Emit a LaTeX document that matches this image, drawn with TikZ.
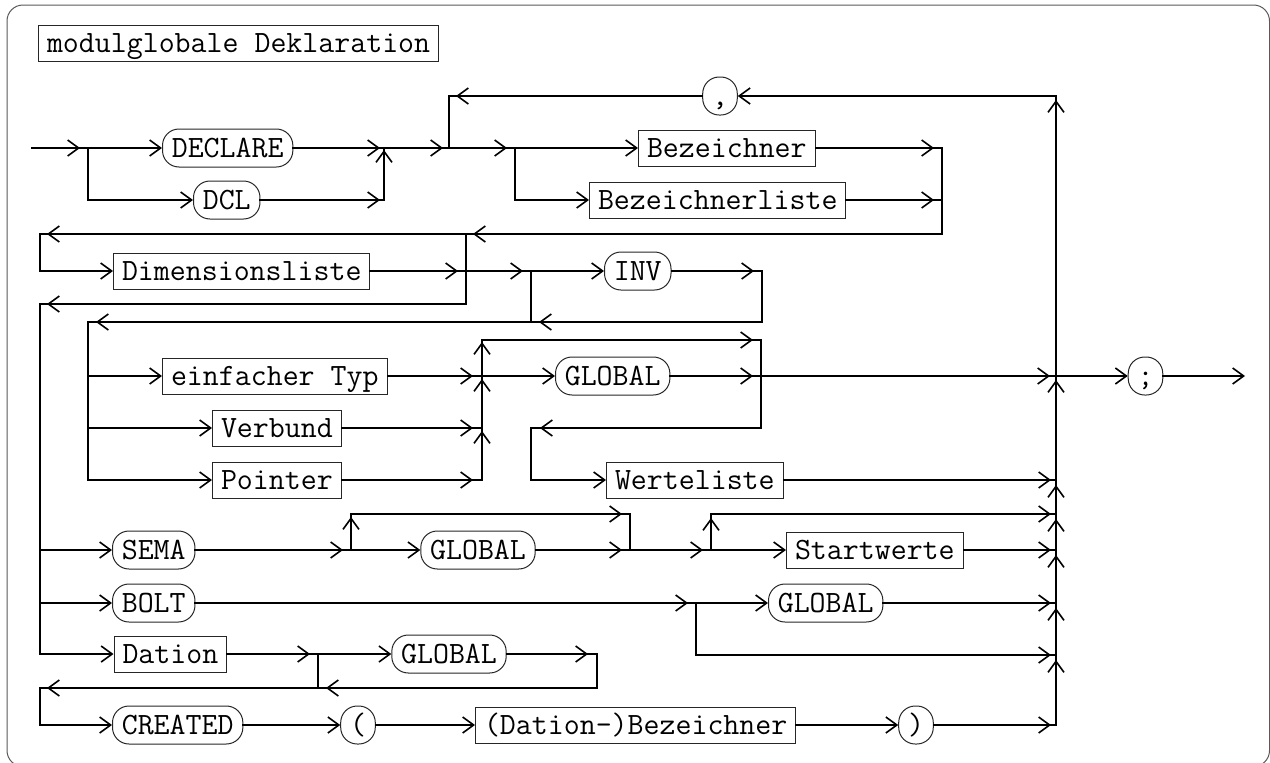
\documentclass[tikz,border=0pt]{standalone}
\usetikzlibrary{arrows.meta,decorations.markings}
\tikzset{
  >={Straight Barb[length=11pt,width=16pt,line width=1.6pt]},
  conn/.style={line width=2pt, line cap=rect, line join=miter},
  ar/.style={postaction={decorate},decoration={markings,mark=at position -#1 with {\arrow{>}}}},
  ar/.default=6pt,
  nt/.style={draw=black!85, line width=1pt, anchor=west, inner xsep=8.5pt, inner ysep=5pt,
    text height=22.5pt, text depth=3.5pt, font=\fontsize{31}{36}\selectfont\ttfamily},
  tm/.style={nt, rounded corners=16.5pt, inner xsep=9.3pt, inner ysep=6pt},
}
\begin{document}
\begin{tikzpicture}[x=1pt,y=-1pt]
\useasboundingbox (0,0) rectangle (1270,763);
\draw[black!65, line width=1pt, rounded corners=16pt] (7,5) rectangle (1269.5,766.5);

% nodes
\node[nt] (title) at (38,43) {modulglobale Deklaration};
\node[tm] (declare) at (162,148) {DECLARE};
\node[tm] (dcl) at (193,200) {DCL};
\node[tm, anchor=center] (comma) at (720,96) {,};
\node[nt] (bez) at (638,148) {Bezeichner};
\node[nt] (bezl) at (589,200) {Bezeichnerliste};
\node[nt] (dim) at (113,271) {Dimensionsliste};
\node[tm] (inv) at (604,271) {INV};
\node[nt] (einf) at (162,376) {einfacher Typ};
\node[nt] (verb) at (212,428) {Verbund};
\node[nt] (ptr) at (212,480) {Pointer};
\node[tm] (glob1) at (555,376) {GLOBAL};
\node[nt] (wert) at (606,480) {Werteliste};
\node[tm] (sema) at (112,550) {SEMA};
\node[tm, anchor=center] (glob2) at (478,550) {GLOBAL};
\node[nt] (start) at (786,550) {Startwerte};
\node[tm] (bolt) at (112,603) {BOLT};
\node[tm] (glob3) at (768,603) {GLOBAL};
\node[nt] (dation) at (113.5,654) {Dation};
\node[tm, anchor=center] (glob4) at (449,654) {GLOBAL};
\node[tm] (created) at (112,725) {CREATED};
\node[tm, anchor=center] (lpar) at (358,725) {(};
\node[nt] (dbez) at (475,725) {(Dation-)Bezeichner};
\node[tm, anchor=center] (rpar) at (916,725) {)};
\node[tm, anchor=center] (semi) at (1145.5,376) {;};

% junction points
\coordinate (s0) at (32,148);
\coordinate (j1) at (88,148); \coordinate (j1b) at (88,200);
\coordinate (j2) at (384,148); \coordinate (j2b) at (384,200);
\coordinate (j3) at (449,148); \coordinate (j3t) at (449,96);
\coordinate (j4) at (515,148); \coordinate (j4b) at (515,200);
\coordinate (j5) at (942,148); \coordinate (j5b) at (942,200); \coordinate (j5c) at (942,234);
\coordinate (d1) at (466,234); \coordinate (d1m) at (466,271); \coordinate (d1e) at (466,304);
\coordinate (cl) at (40,234); \coordinate (cld) at (40,271);
\coordinate (el) at (40,304);
\coordinate (i1) at (531,271); \coordinate (i1f) at (531,322);
\coordinate (i2) at (762,271); \coordinate (i2f) at (762,322);
\coordinate (fl) at (88,322);
\coordinate (t1) at (88,376); \coordinate (t2) at (88,428); \coordinate (t3) at (88,480);
\coordinate (m0) at (482,340); \coordinate (m1) at (482,376); \coordinate (m2) at (482,428); \coordinate (m3) at (482,480);
\coordinate (g0) at (761,340); \coordinate (g1) at (761,376); \coordinate (g2) at (761,428);
\coordinate (w1) at (531,428); \coordinate (w2) at (531,480);
\coordinate (r0) at (1056,96); \coordinate (r1) at (1056,376); \coordinate (r2) at (1056,480);
\coordinate (r3) at (1056,514); \coordinate (r4) at (1056,550); \coordinate (r5) at (1056,603);
\coordinate (r6) at (1056,655); \coordinate (r7) at (1056,725);
\coordinate (out) at (1245,376);
\coordinate (sa) at (40,550); \coordinate (sb) at (40,603); \coordinate (sc) at (40,654);
\coordinate (s1) at (351,550); \coordinate (s1t) at (351,514);
\coordinate (s2t) at (630,514); \coordinate (s2) at (630,550);
\coordinate (s3) at (711,550); \coordinate (s3t) at (711,514);
\coordinate (b1) at (696,603); \coordinate (b1b) at (696,655);
\coordinate (da1) at (318,654); \coordinate (da1b) at (318,688);
\coordinate (da2) at (597,654); \coordinate (da2b) at (597,688);
\coordinate (dl) at (40,688); \coordinate (dlc) at (40,725);

% connectors: declaration keyword
\draw[conn, ar=8pt] (s0) -- (j1);
\draw[conn, ->] (j1) -- (declare);
\draw[conn, ->] (j1) -- (j1b) -- (dcl);
\draw[conn, ar=4pt] (declare) -- (j2);
\draw[conn, ar=4pt] (dcl) -- (j2b);
\draw[conn, ar=2pt] (j2b) -- (j2);
\draw[conn, ar=6pt] (j2) -- (j3);
\draw[conn, ar=8pt] (j3) -- (j4);
% names
\draw[conn, ->] (j4) -- (bez);
\draw[conn, ->] (j4) -- (j4b) -- (bezl);
\draw[conn, ar=8pt] (bez) -- (j5);
\draw[conn, ar=8pt] (bezl) -- (j5b);
\draw[conn, ar=7pt] (j5) -- (j5c) -- (d1);
% dimension list
\draw[conn, ar=7pt] (d1) -- (cl);
\draw[conn, ->] (cl) -- (cld) -- (dim);
\draw[conn, ar=8pt] (dim) -- (d1m);
\draw[conn] (d1) -- (d1e);
\draw[conn, ar=7pt] (d1e) -- (el);
% INV
\draw[conn, ar=8pt] (d1m) -- (i1);
\draw[conn, ->] (i1) -- (inv);
\draw[conn, ar=8pt] (inv) -- (i2);
\draw[conn, ar=8pt] (i2) -- (i2f) -- (i1f);
\draw[conn] (i1) -- (i1f);
\draw[conn, ar=8pt] (i1f) -- (fl);
% types
\draw[conn, ->] (fl) -- (t1) -- (einf);
\draw[conn, ->] (t1) -- (t2) -- (verb);
\draw[conn, ->] (t2) -- (t3) -- (ptr);
\draw[conn, ar=9pt] (einf) -- (m1);
\draw[conn, ar=9pt] (verb) -- (m2);
\draw[conn, ar=9pt] (ptr) -- (m3);
\draw[conn, ar=3pt] (m3) -- (m2);
\draw[conn, ar=3pt] (m2) -- (m1);
\draw[conn, ar=2pt] (m1) -- (m0);
\draw[conn, ar=8pt] (m0) -- (g0);
\draw[conn, ->] (m1) -- (glob1);
\draw[conn, ar=8pt] (glob1) -- (g1);
\draw[conn, ar=6pt] (g1) -- (r1);
\draw[conn, ar=9pt] (g0) -- (g2) -- (w1);
\draw[conn, ->] (w1) -- (w2) -- (wert);
\draw[conn, ar=5pt] (wert) -- (r2);
% merge column
\draw[conn, ar=5pt] (r7) -- (r6);
\draw[conn, ar=5pt] (r6) -- (r5);
\draw[conn, ar=5pt] (r5) -- (r4);
\draw[conn, ar=5pt] (r4) -- (r3);
\draw[conn, ar=5pt] (r3) -- (r2);
\draw[conn, ar=4pt] (r2) -- (r1);
\draw[conn, ar=4pt] (r1) -- (r0);
\draw[conn, ->] (r0) -- (comma);
\draw[conn, ar=7pt] (comma) -- (j3t);
\draw[conn] (j3t) -- (j3);
\draw[conn, ->] (r1) -- (semi);
\draw[conn, ->] (semi) -- (out);
% SEMA / BOLT / Dation
\draw[conn] (el) -- (sa);
\draw[conn, ->] (sa) -- (sema);
\draw[conn] (sa) -- (sb);
\draw[conn, ->] (sb) -- (bolt);
\draw[conn, ->] (sb) -- (sc) -- (dation);
\draw[conn, ar=8pt] (sema) -- (s1);
\draw[conn, ar=3pt] (s1) -- (s1t);
\draw[conn, ar=8pt] (s1t) -- (s2t);
\draw[conn, ->] (s1) -- (glob2);
\draw[conn, ar=8pt] (glob2) -- (s2);
\draw[conn] (s2t) -- (s2);
\draw[conn, ar=8pt] (s2) -- (s3);
\draw[conn, ar=4pt] (s3) -- (s3t);
\draw[conn, ar=5pt] (s3t) -- (r3);
\draw[conn, ->] (s3) -- (start);
\draw[conn, ar=5pt] (start) -- (r4);
\draw[conn, ar=8pt] (bolt) -- (b1);
\draw[conn, ->] (b1) -- (glob3);
\draw[conn, ar=5pt] (glob3) -- (r5);
\draw[conn, ar=5pt] (b1) -- (b1b) -- (r6);
\draw[conn, ar=8pt] (dation) -- (da1);
\draw[conn, ->] (da1) -- (glob4);
\draw[conn, ar=9pt] (glob4) -- (da2);
\draw[conn, ar=8pt] (da2) -- (da2b) -- (da1b);
\draw[conn] (da1) -- (da1b);
\draw[conn, ar=7pt] (da1b) -- (dl);
\draw[conn, ->] (dl) -- (dlc) -- (created);
\draw[conn, ->] (created) -- (lpar);
\draw[conn, ->] (lpar) -- (dbez);
\draw[conn, ->] (dbez) -- (rpar);
\draw[conn, ar=5pt] (rpar) -- (r7);
\end{tikzpicture}
\end{document}
